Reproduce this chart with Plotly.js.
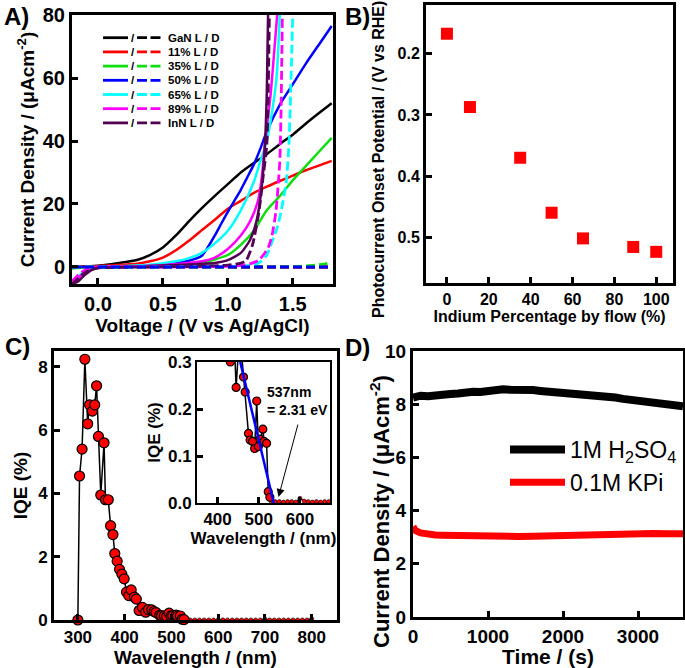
<!DOCTYPE html>
<html>
<head>
<meta charset="utf-8">
<script src="https://cdn.plot.ly/plotly-3.0.1.min.js"></script>
<style>
  html, body { margin: 0; padding: 0; background: #fff; }
  #fig { width: 685px; height: 668px; }
</style>
</head>
<body>
<div id="fig"></div>
<script>
// ---------- Panel A: J-V curves, light (solid) and dark (dashed) ----------
const sampleNames  = ['GaN', '11%', '35%', '50%', '65%', '89%', 'InN'];
const sampleColors = ['#000000', '#ff0000', '#11dd11', '#0000ff', '#00ffff', '#ff00ff', '#520052'];

const vGaNLight = [-0.2, 0, 0.1, 0.2, 0.3, 0.4, 0.5, 0.6, 0.7, 0.8, 0.9, 1.0, 1.1, 1.2, 1.3, 1.4, 1.5, 1.6, 1.7, 1.8];
const jGaNLight = [0, 0.4, 0.9, 1.5, 2.2, 3.8, 6.2, 10, 14.5, 18.7, 22.6, 26.3, 30, 33, 35.8, 39, 42, 45.5, 48.8, 52];
const v11Light  = [-0.2, 0, 0.1, 0.2, 0.3, 0.4, 0.5, 0.6, 0.7, 0.8, 0.9, 1.0, 1.1, 1.2, 1.3, 1.4, 1.5, 1.6, 1.7, 1.8];
const j11Light  = [0, 0.3, 0.5, 0.7, 1, 1.8, 3, 5.3, 8.3, 11.7, 15, 18.5, 21, 23.5, 25.5, 27.3, 29, 30.7, 32.2, 33.7];
const v35Light  = [-0.2, -0.1, 0, 0.2, 0.4, 0.6, 0.7, 0.8, 0.9, 1.0, 1.1, 1.2, 1.3, 1.4, 1.5, 1.6, 1.7, 1.8];
const j35Light  = [-0.5, -0.2, 0, 0.2, 0.4, 0.6, 0.9, 1.3, 2.4, 3.8, 7, 11.5, 18, 22.5, 27.5, 32, 36.5, 41];
const v50Light  = [-0.2, 0, 0.2, 0.4, 0.5, 0.6, 0.7, 0.8, 0.85, 0.9, 0.95, 1.0, 1.05, 1.1, 1.15, 1.2, 1.25, 1.3, 1.4, 1.5, 1.6, 1.7, 1.8];
const j50Light  = [0, 0, 0.2, 0.5, 0.8, 1.2, 2, 3.6, 6.5, 10, 13.8, 17.5, 21, 24.5, 28.5, 32.5, 37.5, 43, 51.5, 58, 64.5, 70.5, 76.5];
const v65Light  = [-0.2, -0.15, -0.1, 0, 0.2, 0.4, 0.6, 0.7, 0.8, 0.9, 1.0, 1.1, 1.2, 1.25, 1.3, 1.33, 1.375, 1.4];
const j65Light  = [-5.5, -3, -1.2, 0, 0.3, 0.7, 1.8, 2.8, 4.5, 7.5, 11.5, 18, 27, 33.5, 40, 46.5, 60, 80];
const v89Light  = [-0.2, -0.15, -0.1, 0, 0.2, 0.4, 0.6, 0.8, 0.9, 1.0, 1.1, 1.17, 1.23, 1.26, 1.285, 1.33, 1.38];
const j89Light  = [-5.5, -3.5, -1.5, -0.2, 0.1, 0.4, 0.9, 1.8, 3, 5.7, 10, 14.4, 20.7, 28, 38.7, 55, 80];
const vInNLight = [-0.2, -0.15, -0.1, -0.05, 0, 0.2, 0.4, 0.6, 0.8, 0.9, 1.0, 1.1, 1.17, 1.22, 1.26, 1.285, 1.3, 1.31];
const jInNLight = [-5.5, -4.5, -2.5, -1, -0.3, 0, 0.3, 0.6, 1, 1.3, 2.2, 4.5, 8.5, 14.4, 25, 38, 55, 80];

const vGaNDark = [-0.2, 1.8];
const jGaNDark = [0, 0];
const v11Dark  = [-0.2, 1.8];
const j11Dark  = [0, 0];
const v35Dark  = [-0.2, 0.5, 1.0, 1.4, 1.55, 1.65, 1.72, 1.8];
const j35Dark  = [0, 0, 0, 0.05, 0.2, 0.5, 0.8, 1.4];
const v50Dark  = [-0.2, 1.8];
const j50Dark  = [0, 0];
const v65Dark  = [-0.2, 0, 0.5, 1.0, 1.1, 1.2, 1.25, 1.3, 1.34, 1.38, 1.41, 1.45, 1.47, 1.48, 1.5];
const j65Dark  = [0, 0, 0, 0.1, 0.3, 0.7, 1.6, 3.8, 8, 12.5, 17.6, 27, 38.5, 50, 80];
const v89Dark  = [-0.2, -0.15, -0.1, 0, 0.5, 1.0, 1.1, 1.17, 1.24, 1.31, 1.34, 1.37, 1.4, 1.41, 1.42];
const j89Dark  = [-4.5, -2.5, -1, 0, 0, 0.2, 0.5, 1, 2.2, 6.1, 10, 17.5, 33.4, 50, 80];
const vInNDark = [-0.2, -0.15, -0.1, -0.05, 0, 0.4, 0.8, 1.0, 1.1, 1.14, 1.19, 1.24, 1.27, 1.3, 1.32];
const jInNDark = [-5.5, -3.5, -1.8, -0.8, -0.3, 0, 0.2, 0.6, 1.2, 2, 7, 17.6, 28, 38.7, 80];

// ---------- Panel B: onset potential vs indium fraction ----------
const indiumPct  = [0, 11, 35, 50, 65, 89, 100];
const onsetPotV  = [0.167, 0.287, 0.37, 0.46, 0.502, 0.516, 0.524];

// ---------- Panel C: IQE spectrum ----------
const wlMain  = [300, 303.6, 309, 315, 321, 325, 331, 336, 340, 344, 349, 356, 359, 365, 370, 375, 379, 384, 389, 394,
                 399, 404, 409, 414, 421, 425, 431, 438, 445, 451, 458, 463, 467, 475, 479, 485, 490, 495, 499, 503,
                 510, 513, 519, 523, 527];
const iqeMain = [0, 4.55, 5.4, 8.24, 6.2, 6.8, 6.6, 6.8, 7.4, 5.8, 3.95, 5.6, 3.8, 3.8, 2.98, 2.7, 2.1, 1.86, 1.6, 1.45,
                 1.3, 0.88, 0.77, 0.95, 0.72, 0.66, 0.3, 0.4, 0.246, 0.33, 0.32, 0.268, 0.236, 0.148, 0.134, 0.131, 0.116, 0.217, 0.12, 0.136,
                 0.157, 0.131, 0.127, 0.024, 0.012];
const wlTail  = [527, 530, 540, 550, 560, 570, 580, 590, 600, 610, 620, 630, 640, 650, 660, 670, 680, 690, 700, 710,
                 720, 730, 740, 750, 760, 770, 780, 790, 800];
const iqeTail = [0.012, 0.004, 0.003, 0.003, 0.002, 0.003, 0.003, 0.002, 0.010, 0.004, 0.003, 0.002, 0.003, 0.002, 0.003, 0.003, 0.002, 0.003, 0.03, 0.003,
                 0.002, 0.003, 0.003, 0.002, 0.003, 0.002, 0.003, 0.003, 0.04];
// linear fit of the absorption edge (inset)
const wlFit  = [455, 542];
const iqeFit = [0.30, -0.021];

// ---------- Panel D: stability ----------
const timeS = [0, 100, 200, 300, 400, 500, 600, 700, 800, 900, 1000, 1100, 1200, 1300, 1400, 1500, 1600, 1700, 1800,
               1900, 2000, 2100, 2200, 2300, 2400, 2500, 2600, 2700, 2800, 2900, 3000, 3100, 3200, 3300, 3400, 3500, 3600];
const jH2SO4 = [8.25, 8.32, 8.30, 8.35, 8.33, 8.38, 8.40, 8.45, 8.47, 8.46, 8.50, 8.52, 8.56, 8.54, 8.55, 8.52, 8.53, 8.50, 8.48,
                8.47, 8.44, 8.41, 8.38, 8.36, 8.33, 8.30, 8.28, 8.25, 8.20, 8.16, 8.14, 8.10, 8.07, 8.03, 7.99, 7.95, 7.92];
const timeKPi = [0, 30, 100, 200, 300, 400, 500, 600, 800, 1000, 1200, 1400, 1600, 1800, 2000, 2200, 2400, 2600, 2800, 3000, 3200, 3400, 3600];
const jKPi    = [3.40, 3.25, 3.16, 3.10, 3.08, 3.07, 3.06, 3.05, 3.04, 3.03, 3.03, 3.03, 3.04, 3.06, 3.08, 3.09, 3.10, 3.12, 3.13, 3.14, 3.14, 3.13, 3.13];

const FONT = 'Liberation Sans, Arial, sans-serif';
const W = 685, H = 668;
const px = v => v / W;           // pixel -> paper x
const py = v => 1 - v / H;       // pixel -> paper y

const lightSets = [[vGaNLight, jGaNLight], [v11Light, j11Light], [v35Light, j35Light], [v50Light, j50Light],
                   [v65Light, j65Light], [v89Light, j89Light], [vInNLight, jInNLight]];
const darkSets  = [[vGaNDark, jGaNDark], [v11Dark, j11Dark], [v35Dark, j35Dark], [v65Dark, j65Dark],
                   [v89Dark, j89Dark], [vInNDark, jInNDark], [v50Dark, j50Dark]];
const darkColors = [0, 1, 2, 4, 5, 6, 3].map(i => sampleColors[i]);

const traces = [];
lightSets.forEach(([v, j], i) => traces.push({
  x: v, y: j, xaxis: 'x', yaxis: 'y', mode: 'lines', showlegend: false, hoverinfo: 'skip',
  line: { color: sampleColors[i], width: 2.5, shape: 'spline', smoothing: 0.6 }
}));
darkSets.forEach(([v, j], i) => traces.push({
  x: v, y: j, xaxis: 'x', yaxis: 'y', mode: 'lines', showlegend: false, hoverinfo: 'skip',
  line: { color: darkColors[i], width: 2.8, dash: '9px,4px', shape: 'spline', smoothing: 0.6 }
}));

// B
traces.push({
  x: indiumPct, y: onsetPotV, xaxis: 'x2', yaxis: 'y2', mode: 'markers', showlegend: false,
  marker: { symbol: 'square', size: 12, color: '#ff0000' }
});

// C main + inset
[['x3', 'y3', 10, 4], ['x4', 'y4', 8, 4]].forEach(([xa, ya, big, small]) => {
  traces.push({
    x: wlTail, y: iqeTail, xaxis: xa, yaxis: ya, mode: 'lines+markers', showlegend: false, cliponaxis: false,
    line: { color: '#000', width: 1.2 },
    marker: { size: small, color: '#ff0000', line: { color: '#000', width: 0.6 } }
  });
  traces.push({
    x: wlMain, y: iqeMain, xaxis: xa, yaxis: ya, mode: 'lines+markers', showlegend: false, cliponaxis: xa === 'x4',
    line: { color: '#000', width: 1.5 },
    marker: { size: big, color: '#ff0000', line: { color: '#000', width: 1.2 } }
  });
});
traces.push({
  x: wlFit, y: iqeFit, xaxis: 'x4', yaxis: 'y4', mode: 'lines', showlegend: false,
  line: { color: '#0000ff', width: 2.5 }
});

// D
traces.push({
  x: timeS, y: jH2SO4, xaxis: 'x5', yaxis: 'y5', mode: 'lines', name: '1M H<sub>2</sub>SO<sub>4</sub>',
  line: { color: '#000', width: 8 }
});
traces.push({
  x: timeKPi, y: jKPi, xaxis: 'x5', yaxis: 'y5', mode: 'lines', name: '0.1M KPi',
  line: { color: '#ff0000', width: 7 }
});

function frame(extra, size, lw) {
  return Object.assign({
    showline: true, linewidth: lw || 3, linecolor: '#000', mirror: true,
    ticks: 'inside', ticklen: 6, tickwidth: 3, tickcolor: '#000',
    showgrid: false, zeroline: false, fixedrange: true,
    tickfont: { family: FONT, size: size, color: '#000', weight: 'bold' }
  }, extra);
}
function ttl(text, size, standoff) {
  return { text: text, standoff: standoff, font: { family: FONT, size: size, color: '#000', weight: 'bold' } };
}
function bold(size) {
  return { family: FONT, size: size, color: '#000', weight: 'bold' };
}

// Panel A custom legend: solid / dashed pairs
const shapes = [];
const annotations = [];
sampleNames.forEach((name, i) => {
  const y = py(37.7 + 14.2 * i);
  shapes.push({ type: 'line', xref: 'paper', yref: 'paper', x0: px(103), x1: px(128), y0: y, y1: y,
                line: { color: sampleColors[i], width: 2.8 } });
  shapes.push({ type: 'line', xref: 'paper', yref: 'paper', x0: px(137), x1: px(164), y0: y, y1: y,
                line: { color: sampleColors[i], width: 2.8, dash: '10px,3.5px' } });
  annotations.push({ xref: 'paper', yref: 'paper', x: px(132.5), y: y, xanchor: 'center', yanchor: 'middle',
                     text: '/', showarrow: false, font: bold(11.5) });
  annotations.push({ xref: 'paper', yref: 'paper', x: px(166), y: y, xanchor: 'left', yanchor: 'middle',
                     text: name + ' L / D', showarrow: false, font: bold(11.5) });
});

// panel letters
[['A)', 2, 1], ['B)', 343, 1], ['C)', 3, 331], ['D)', 343, 332]].forEach(([t, x, y]) => {
  annotations.push({ xref: 'paper', yref: 'paper', x: px(x), y: py(y), xanchor: 'left', yanchor: 'top',
                     text: t, showarrow: false, font: bold(24) });
});

// y titles of B and D sit off-centre in the reference, so they are placed by hand
annotations.push({ xref: 'paper', yref: 'paper', x: px(378), y: py(160), xanchor: 'center', yanchor: 'middle',
                   textangle: -90, text: 'Photocurrent Onset Potential / (V vs RHE)', showarrow: false, font: bold(16) });
annotations.push({ xref: 'paper', yref: 'paper', x: px(380), y: py(512), xanchor: 'center', yanchor: 'middle',
                   textangle: -90, text: 'Current Density / (μAcm<sup>-2</sup>)', showarrow: false, font: bold(22) });

// inset annotation
annotations.push({ xref: 'x4', yref: 'y4', x: 515, y: 0.218, xanchor: 'left', yanchor: 'middle', align: 'left',
                   text: '537nm<br>= 2.31 eV', showarrow: false, font: bold(14) });
annotations.push({ xref: 'x4', yref: 'y4', x: 548, y: 0.013, axref: 'x4', ayref: 'y4', ax: 596, ay: 0.17,
                   text: '', showarrow: true, arrowhead: 2, arrowsize: 1.6, arrowwidth: 1, arrowcolor: '#000' });

const layout = {
  width: W, height: H, margin: { l: 0, r: 0, t: 0, b: 0 },
  paper_bgcolor: '#fff', plot_bgcolor: 'rgba(0,0,0,0)',
  font: { family: FONT, color: '#000' },
  xaxis: frame({ domain: [px(72), px(333)], anchor: 'y', range: [-0.2, 1.81], tickvals: [0, 0.5, 1, 1.5], tickformat: '.1f',
                 title: ttl('Voltage / (V vs Ag/AgCl)', 19, 0) }, 20),
  yaxis: frame({ domain: [py(284), py(15)], anchor: 'x', range: [-5.4, 80], tickvals: [0, 20, 40, 60, 80],
                 title: ttl('Current Density / (μAcm<sup>-2</sup>)', 19, 4) }, 20),
  xaxis2: frame({ domain: [px(426), px(673)], anchor: 'y2', range: [-10, 108], tickvals: [0, 20, 40, 60, 80, 100],
                  title: ttl('Indium Percentage by flow (%)', 16, 4) }, 16),
  yaxis2: frame({ domain: [py(283), py(5)], anchor: 'x2', range: [0.575, 0.12], tickvals: [0.2, 0.3, 0.4, 0.5], tickformat: '.1f' }, 16),
  xaxis3: frame({ domain: [px(54), px(337)], anchor: 'y3', range: [249, 854], tickvals: [300, 400, 500, 600, 700, 800],
                  title: ttl('Wavelength / (nm)', 19, 0) }, 17),
  yaxis3: frame({ domain: [py(620), py(351)], anchor: 'x3', range: [0, 8.5], tickvals: [0, 2, 4, 6, 8],
                  title: ttl('IQE (%)', 19, 6) }, 17),
  xaxis4: frame({ domain: [px(197), px(330)], anchor: 'y4', range: [350, 673], tickvals: [400, 500, 600],
                  title: ttl('Wavelength / (nm)', 17, 0) }, 17, 2),
  yaxis4: frame({ domain: [py(503), py(362)], anchor: 'x4', range: [0, 0.3], tickvals: [0, 0.1, 0.2, 0.3], tickformat: '.1f',
                  title: ttl('IQE (%)', 17, 3) }, 17, 2),
  xaxis5: frame({ domain: [px(413), px(683)], anchor: 'y5', range: [0, 3600], tickvals: [0, 1000, 2000, 3000],
                  title: ttl('Time / (s)', 21, 0) }, 19),
  yaxis5: frame({ domain: [py(617), py(351)], anchor: 'x5', range: [0, 10], tickvals: [0, 2, 4, 6, 8, 10] }, 19),
  legend: { x: px(505), y: py(428), xanchor: 'left', yanchor: 'top', bgcolor: 'rgba(0,0,0,0)',
            itemwidth: 55, tracegroupgap: 0,
            font: { family: FONT, size: 23, color: '#000' } },
  shapes: shapes,
  annotations: annotations
};

Plotly.newPlot('fig', traces, layout, { staticPlot: true, displayModeBar: false });
</script>
</body>
</html>
